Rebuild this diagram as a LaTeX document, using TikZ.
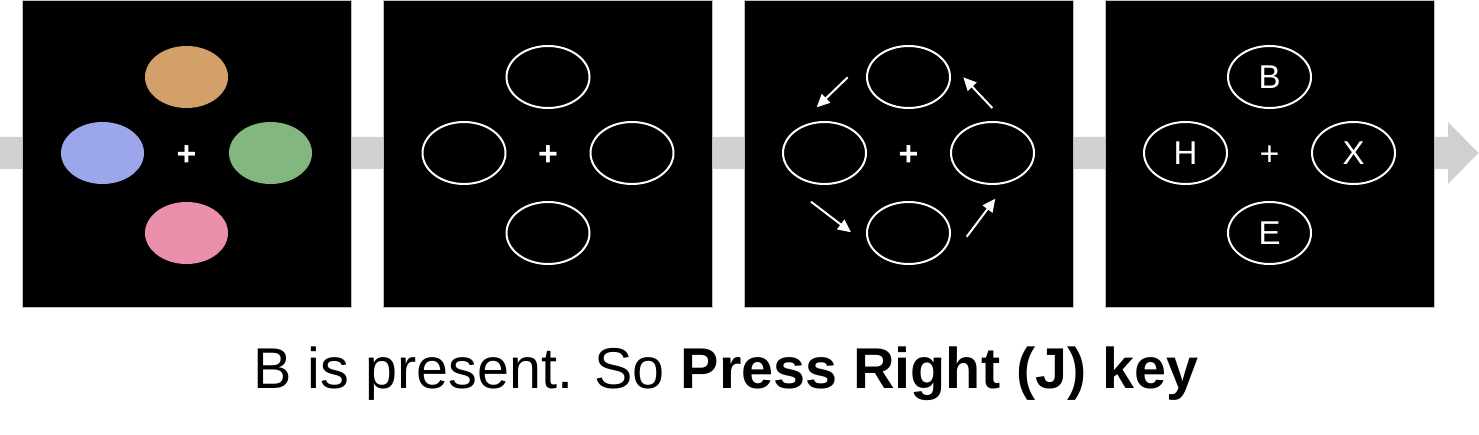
\documentclass[tikz,border=0pt]{standalone}
\usepackage{fontspec}
\setmainfont{Liberation Sans}
\usetikzlibrary{shapes.geometric,arrows.meta}
\definecolor{cOrange}{RGB}{212,160,106}
\definecolor{cBlue}{RGB}{156,166,235}
\definecolor{cGreen}{RGB}{130,184,128}
\definecolor{cPink}{RGB}{234,144,171}
\definecolor{cBand}{RGB}{208,208,208}
\definecolor{cEdge}{RGB}{190,190,190}
\begin{document}
\begin{tikzpicture}[x=1pt,y=-1pt,
  panel/.style={rectangle,fill=black,draw=cEdge,line width=0.6pt,minimum width=329pt,minimum height=307pt,inner sep=0pt},
  disc/.style={ellipse,minimum width=83pt,minimum height=62pt,inner sep=0pt},
  ring/.style={disc,draw=white,line width=2pt,text=white,font=\fontsize{33}{33}\selectfont},
  fix/.style={text=white,inner sep=0pt,font=\fontsize{34}{34}\selectfont\bfseries},
  fixthin/.style={text=white,inner sep=0pt,font=\fontsize{34}{34}\selectfont},
  turn/.style={draw=white,line width=2pt,-{Triangle[length=13pt,width=12pt]}}]
\useasboundingbox (0,0) rectangle (1479,435);
% background progress arrow
\fill[cBand] (0,137) -- (1448,137) -- (1448,122) -- (1478.5,153) -- (1448,184) -- (1448,169) -- (0,169) -- cycle;
% panels
\node[panel] (p1) at (186.5,153.5) {};
\node[panel] (p2) at (548,153.5) {};
\node[panel] (p3) at (908.5,153.5) {};
\node[panel] (p4) at (1269.5,153.5) {};
% panel 1: coloured discs
\node[disc,fill=cOrange] (p1t) at (186.5,77) {};
\node[disc,fill=cBlue]   (p1l) at (102.5,153) {};
\node[disc,fill=cGreen]  (p1r) at (270.5,153) {};
\node[disc,fill=cPink]   (p1b) at (186.5,233) {};
\node[fix] (p1x) at (186.5,155.5) {+};
% panel 2: empty rings
\node[ring] (p2t) at (548,77) {};
\node[ring] (p2l) at (464,153) {};
\node[ring] (p2r) at (632,153) {};
\node[ring] (p2b) at (548,233) {};
\node[fix] (p2x) at (548,155.5) {+};
% panel 3: rings with rotation arrows
\node[ring] (p3t) at (908.5,77) {};
\node[ring] (p3l) at (824.5,153) {};
\node[ring] (p3r) at (992.5,153) {};
\node[ring] (p3b) at (908.5,233) {};
\node[fix] (p3x) at (908.5,155.5) {+};
\coordinate (a1s) at (847.7,77.3);  \coordinate (a1e) at (816.7,107.3);
\coordinate (a2s) at (992.3,108);   \coordinate (a2e) at (963.3,77.3);
\coordinate (a3s) at (811,201.7);   \coordinate (a3e) at (851,232.3);
\coordinate (a4s) at (966.7,236.7); \coordinate (a4e) at (995.3,198.7);
\draw[turn] (a1s) -- (a1e);
\draw[turn] (a2s) -- (a2e);
\draw[turn] (a3s) -- (a3e);
\draw[turn] (a4s) -- (a4e);
% panel 4: letters
\node[ring] (p4t) at (1269.5,77) {B};
\node[ring] (p4l) at (1185.5,153) {H};
\node[ring] (p4r) at (1353.5,153) {X};
\node[ring] (p4b) at (1269.5,233) {E};
\node[fixthin] (p4x) at (1269.5,155.5) {+};
% caption
\node[anchor=base,inner sep=0pt,font=\fontsize{57.5}{60}\selectfont] (cap) at (726,388) {B is present. So \textbf{Press Right (J) key}};
\end{tikzpicture}
\end{document}
